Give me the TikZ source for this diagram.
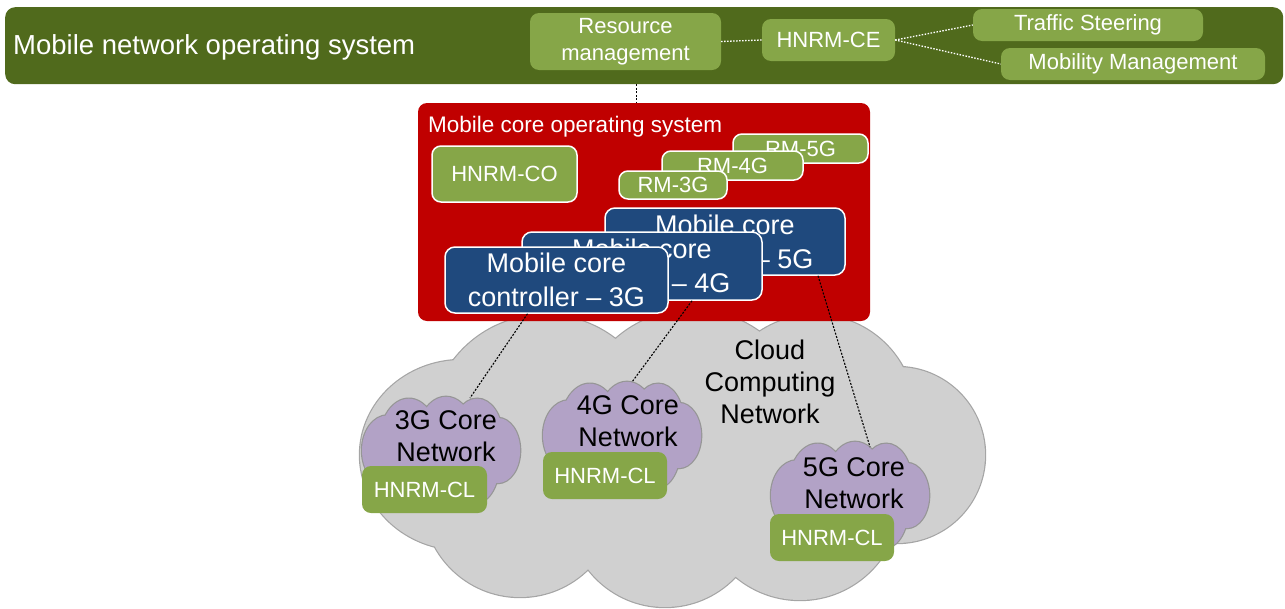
\documentclass[tikz,border=0pt]{standalone}
\usepackage{fontspec}
\setmainfont{Liberation Sans}

\definecolor{bargreen}{RGB}{80,106,28}
\definecolor{leafgreen}{RGB}{134,166,72}
\definecolor{osred}{RGB}{192,0,0}
\definecolor{ctrlblue}{RGB}{31,73,125}
\definecolor{cloudgray}{RGB}{208,208,208}
\definecolor{cloudedge}{RGB}{165,165,165}
\definecolor{corepurple}{RGB}{178,162,198}
\definecolor{coreedge}{RGB}{150,150,150}

% Cloud outline built as a union of lumps (local frame: 625 x 302)
\newcommand\cloudlumps[1]{%
  \path[#1]
    (320,150) ellipse [x radius=250, y radius=120]
    (102,150) ellipse [x radius=102, y radius=95]
    (160,195) circle [radius=97]
    (305,205) circle [radius=97]
    (440,195) circle [radius=100]
    (537,150) circle [radius=88]
    (455,110) circle [radius=100]
    (332,120) circle [radius=115]
    (185,125) circle [radius=115];}

% #1,#2 top-left corner, #3,#4 scales, #5 fill, #6 outline
\newcommand\cloudshape[6]{%
  \begin{scope}[shift={(#1,#2)}, xscale=#3, yscale=#4]
    \cloudlumps{draw=#6, line width=2.4pt}
    \cloudlumps{fill=#5}
  \end{scope}}

\begin{document}
\begin{tikzpicture}[x=1pt, y=-1pt,
  greenbox/.style={fill=leafgreen, rounded corners=9pt, text=white, inner sep=0pt,
    align=center, font=\fontsize{22}{27}\selectfont},
  framedgreen/.style={greenbox, draw=white, line width=1.5pt},
  ctrlbox/.style={fill=ctrlblue, draw=white, line width=1.5pt, rounded corners=10pt,
    text=white, inner sep=0pt, align=center, font=\fontsize{27}{34}\selectfont},
  cloudtext/.style={align=center, inner sep=0pt, font=\fontsize{27}{32}\selectfont},
  whitedots/.style={draw=white, line width=1.3pt, dash pattern=on 1.5pt off 1.5pt},
  blackdots/.style={draw=black, line width=1.1pt, dash pattern=on 2pt off 1.5pt},
  box/.style 2 args={minimum width=#1, minimum height=#2}]

\useasboundingbox (0,0) rectangle (1285,608);

% ---- cloud computing network
\cloudshape{360}{305}{1}{1}{cloudgray}{cloudedge}
\node[cloudtext] (ccn) at (770,382) {Cloud\\Computing\\Network};

% ---- mobile network operating system
\node[fill=bargreen, rounded corners=10pt, inner sep=0pt, anchor=north west,
      box={1278pt}{77pt}] (bar) at (5,7) {};
\node[anchor=base west, inner sep=0pt, text=white,
      font=\fontsize{27.5}{32}\selectfont] (mnos) at (13,54) {Mobile network operating system};

\node[greenbox, box={191pt}{57pt}] (rm) at (625.5,41.5) {Resource\\management};
\node[greenbox, box={133pt}{42pt}] (hce) at (828.5,40) {HNRM-CE};
\node[greenbox, box={230pt}{32pt}] (ts) at (1088,25) {Traffic Steering};
\node[greenbox, box={264pt}{32pt}] (mm) at (1133,64) {Mobility Management};

\draw[whitedots] (rm.east) -- (hce.west);
\draw[whitedots] (hce.east) -- (ts.west);
\draw[whitedots] (hce.east) -- (mm.west);

% ---- mobile core operating system
\node[fill=osred, rounded corners=9pt, inner sep=0pt, box={452pt}{218pt}] (red) at (644,212) {};
\coordinate (rmlink) at ([xshift=11pt]rm.south);
\draw[blackdots] (rmlink |- bar.south) -- (rmlink |- red.north);
\node[anchor=base west, inner sep=0pt, text=white,
      font=\fontsize{22.5}{27}\selectfont] (mcos) at (428,132) {Mobile core operating system};

\node[framedgreen, box={145pt}{56pt}] (hco) at (504.5,174) {HNRM-CO};
\node[framedgreen, box={135pt}{29pt}] (rm5) at (800.5,148.5) {RM-5G};
\node[framedgreen, box={141pt}{29pt}] (rm4) at (732.5,165.5) {RM-4G};
\node[framedgreen, box={108pt}{28pt}] (rm3) at (673,185) {RM-3G};

\node[ctrlbox, box={240pt}{67pt}] (c5) at (725,241.5) {Mobile core\\controller -- 5G};
\node[ctrlbox, box={240pt}{68pt}] (c4) at (642,266) {Mobile core\\controller -- 4G};
\node[ctrlbox, box={223pt}{66pt}] (c3) at (556.5,280) {Mobile core\\controller -- 3G};

% ---- core networks
\cloudshape{362}{395}{0.253}{0.37}{corepurple}{coreedge}
\node[cloudtext] (n3) at (446,436) {3G Core\\Network};
\cloudshape{543}{380}{0.253}{0.37}{corepurple}{coreedge}
\node[cloudtext] (n4) at (628,421) {4G Core\\Network};
\cloudshape{771}{440}{0.253}{0.37}{corepurple}{coreedge}
\node[cloudtext] (n5) at (854,483.5) {5G Core\\Network};

\node[greenbox, box={125pt}{47pt}] (cl3) at (424.5,489.5) {HNRM-CL};
\node[greenbox, box={124pt}{47pt}] (cl4) at (605,475.5) {HNRM-CL};
\node[greenbox, box={124pt}{47pt}] (cl5) at (832,537.5) {HNRM-CL};

% ---- controller to core network links
\coordinate (k3) at (470,398);
\coordinate (k4) at (632,382);
\coordinate (k5) at (870,447);
\draw[blackdots] ([xshift=-29pt]c3.south) -- (k3);
\draw[blackdots] ([xshift=50pt]c4.south) -- (k4);
\draw[blackdots] ([xshift=93pt]c5.south) -- (k5);
\end{tikzpicture}
\end{document}
